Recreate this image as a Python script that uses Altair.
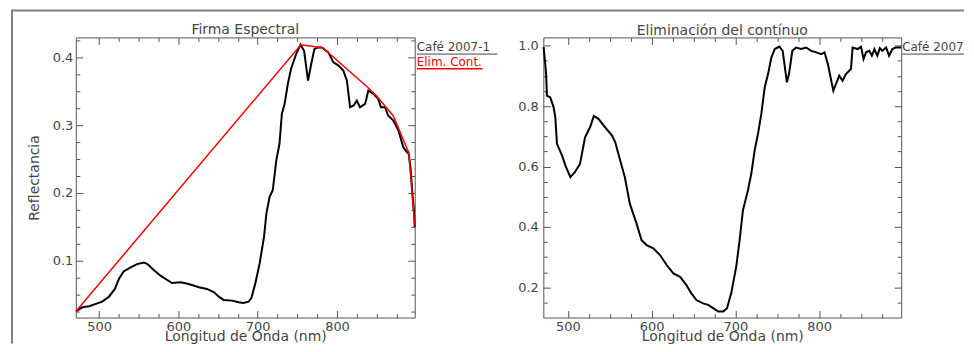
import altair as alt
import pandas as pd

# ---------------- data ----------------
wl_spec = [471, 479, 487.5, 496, 504, 512.5, 520, 525, 531, 540, 548, 556.5, 561, 569, 577.5,
           586, 592, 603, 613, 626, 636, 645, 651, 657, 667.5, 676, 682, 688.5, 692, 697,
           702.5, 708, 711, 715, 719, 723.5, 727.5, 730.5, 734, 738, 742, 748.5, 754, 758.5,
           763.5, 767.5, 771.5, 776, 781, 789, 795.5, 802, 808, 812.5, 816.5, 821, 825, 829,
           835.5, 839.5, 846, 852, 855.5, 860.5, 864.5, 871, 877.5, 883.5, 888, 890.5, 893,
           895, 897, 898]
refl_spec = [0.0255, 0.0313, 0.0328, 0.0363, 0.0397, 0.047, 0.0584, 0.073, 0.0843, 0.0902,
             0.095, 0.0975, 0.095, 0.0863, 0.078, 0.0716, 0.0672, 0.0681, 0.0657, 0.0608,
             0.0584, 0.0534, 0.047, 0.0422, 0.0412, 0.0387, 0.0378, 0.0397, 0.0446, 0.0666,
             0.096, 0.1353, 0.1696, 0.194, 0.204, 0.248, 0.2725, 0.3167, 0.3314, 0.3607,
             0.3828, 0.4049, 0.4187, 0.4098, 0.3657, 0.3902, 0.4122, 0.4147, 0.4147, 0.4074,
             0.3926, 0.3878, 0.3804, 0.3657, 0.3265, 0.329, 0.3363, 0.3265, 0.3314, 0.351,
             0.346, 0.3387, 0.3265, 0.3265, 0.3142, 0.3069, 0.2922, 0.2676, 0.2603, 0.2578,
             0.2334, 0.199, 0.1745, 0.15]

wl_hull = [471, 754.5, 782, 840, 850, 871, 890.5, 898]
refl_hull = [0.0255, 0.4187, 0.4142, 0.3545, 0.343, 0.3135, 0.2595, 0.152]

wl_cr = [471, 473, 474, 475, 479, 483, 485, 487, 493, 497, 503, 508.5, 514.5, 520.5, 526.5,
         531, 536.5, 544.5, 552.5, 556.5, 562.5, 568, 574, 582, 588, 594, 602, 610, 618, 626,
         634, 641.5, 647.5, 653.5, 661.5, 667.5, 673.5, 679.5, 685.5, 690, 695, 701, 705, 709,
         715, 719, 723, 727, 731, 735, 739, 743, 747, 752.5, 756.5, 761.5, 764, 768, 772.5,
         778.5, 784.5, 790.5, 796.5, 802.5, 806.5, 810.5, 814.5, 817, 820, 824, 828, 832, 838,
         840, 846, 850, 853, 856, 860, 863, 866, 869.5, 872.5, 875.5, 880, 883.5, 887.5, 891.5,
         898]
val_cr = [0.995, 0.94, 0.906, 0.835, 0.829, 0.796, 0.763, 0.675, 0.637, 0.604, 0.565, 0.582,
          0.609, 0.697, 0.730, 0.767, 0.758, 0.730, 0.703, 0.681, 0.620, 0.565, 0.477, 0.411,
          0.356, 0.340, 0.329, 0.307, 0.274, 0.246, 0.235, 0.208, 0.180, 0.158, 0.147, 0.142,
          0.131, 0.120, 0.120, 0.131, 0.180, 0.268, 0.354, 0.455, 0.521, 0.576, 0.653, 0.708,
          0.774, 0.862, 0.906, 0.961, 0.989, 0.997, 0.983, 0.879, 0.906, 0.983, 0.994, 0.989,
          0.994, 0.983, 0.978, 0.972, 0.978, 0.939, 0.884, 0.851, 0.873, 0.901, 0.884, 0.906,
          0.923, 0.994, 0.989, 0.997, 0.956, 0.978, 0.983, 0.967, 0.989, 0.967, 0.992, 0.983,
          0.994, 0.967, 0.989, 0.994, 0.994]

x_major = [500, 600, 700, 800]
x_minor = [525, 550, 575, 625, 650, 675, 725, 750, 775, 825, 850, 875]
y1_major = [0.1, 0.2, 0.3, 0.4]
y1_minor = [0.025, 0.05, 0.075, 0.125, 0.15, 0.175, 0.225, 0.25, 0.275, 0.325, 0.35, 0.375, 0.425]
y2_major = [0.2, 0.4, 0.6, 0.8, 1.0]
y2_minor = [0.15, 0.25, 0.3, 0.35, 0.45, 0.5, 0.55, 0.65, 0.7, 0.75, 0.85, 0.9, 0.95]

titles = ["Firma Espectral", "Eliminación del contínuo"]
x_title = "Longitud de Onda (nm)"
y_title = "Reflectancia"
legend_labels = ["Café 2007-1", "Elim. Cont."]

df_spec = pd.DataFrame({"wl": wl_spec, "v": refl_spec})
df_hull = pd.DataFrame({"wl": wl_hull, "v": refl_hull})
df_cr = pd.DataFrame({"wl": wl_cr, "v": val_cr})
one = pd.DataFrame({"k": [0]})

TXT = "#454545"
TICK = "#555555"
FONT = "DejaVu Sans"
MAJ, MIN = 7, 4

W1, W2, H = 340, 359, 281
xscale = alt.Scale(domain=[470.7, 898], nice=False, zero=False)
yscale1 = alt.Scale(domain=[0.0162, 0.4294], nice=False, zero=False)
yscale2 = alt.Scale(domain=[0.1, 1.0274], nice=False, zero=False)


def tick_axis(orient, values, size, **kw):
    base = dict(orient=orient, values=values, tickSize=size, offset=-size, domain=False,
                grid=False, labels=False, title=None, tickColor=TICK, tickWidth=1,
                minExtent=0)
    base.update(kw)
    return alt.Axis(**base)


def text_at(label, x, y, color, size, align="left", limit=0):
    kw = {}
    if limit:
        kw = dict(limit=limit, ellipsis="\u200b")
    return alt.Chart(pd.DataFrame({"t": [label]})).mark_text(
        align=align, baseline="alphabetic", font=FONT, fontSize=size, color=color, **kw
    ).encode(text="t:N", x=alt.value(x), y=alt.value(y))


def hrule(x1, x2, y, color, w):
    return alt.Chart(one).mark_rule(color=color, strokeWidth=w).encode(
        x=alt.value(x1), x2=alt.value(x2), y=alt.value(y))


def panel(df, yscale, ymaj, ymin, width, title, title_y, ytitle, ylabpad, extra):
    ytitle_kw = {}
    if ytitle:
        ytitle_kw = dict(title=ytitle, titleX=37 - (74 + MAJ), titleY=H / 2,
                         titleBaseline="alphabetic", titleAngle=270)
    x_bot = tick_axis("bottom", x_major, MAJ, labels=True, labelPadding=2.5,
                      title=x_title, titleX=width / 2, titleY=30,
                      titleBaseline="alphabetic")
    y_left = tick_axis("left", ymaj, MAJ, labels=True, labelPadding=ylabpad,
                       format=".1f", **ytitle_kw)
    main = alt.Chart(df).mark_line(color="black", strokeWidth=2).encode(
        x=alt.X("wl:Q", scale=xscale, axis=x_bot),
        y=alt.Y("v:Q", scale=yscale, axis=y_left),
    )
    l2 = alt.Chart(df).mark_line(opacity=0).encode(
        x=alt.X("wl:Q", scale=xscale, axis=tick_axis("bottom", x_minor, MIN)),
        y=alt.Y("v:Q", scale=yscale, axis=tick_axis("left", ymin, MIN)),
    )
    l3 = alt.Chart(df).mark_line(opacity=0).encode(
        x=alt.X("wl:Q", scale=xscale, axis=tick_axis("top", x_major, MAJ)),
        y=alt.Y("v:Q", scale=yscale, axis=tick_axis("right", ymaj, MAJ)),
    )
    l4 = alt.Chart(df).mark_line(opacity=0).encode(
        x=alt.X("wl:Q", scale=xscale, axis=tick_axis("top", x_minor, MIN)),
        y=alt.Y("v:Q", scale=yscale, axis=tick_axis("right", ymin, MIN)),
    )
    ttl = text_at(title, width / 2, title_y, TXT, 14, align="center")
    layers = [main, l2, l3, l4, ttl] + extra
    return alt.layer(*layers).resolve_axis(x="independent", y="independent").properties(
        width=width, height=H)


hull = alt.Chart(df_hull).mark_line(color="#ff0000", strokeWidth=1.5).encode(
    x=alt.X("wl:Q", scale=xscale, axis=None), y=alt.Y("v:Q", scale=yscale1, axis=None))

frame_v = alt.Chart(one).mark_rule(color="#808080", strokeWidth=2).encode(
    x=alt.value(-64), y=alt.value(-27), y2=alt.value(307))
frame_h = hrule(-65, 891, -27, "#808080", 2)

left_extra = [
    hull,
    text_at(legend_labels[0], 342, 14, TXT, 12),
    hrule(342, 423, 16.7, TXT, 1),
    text_at(legend_labels[1], 342, 29, "#ff0000", 12),
    hrule(342, 408, 31.3, "#ff0000", 1.5),
    frame_v,
    frame_h,
]
right_extra = [
    text_at(legend_labels[0], 360, 14, TXT, 12, limit=62),
    hrule(360, 422, 16.7, TXT, 1),
]

left = panel(df_spec, yscale1, y1_major, y1_minor, W1, titles[0], -3.3, y_title, 3, left_extra)
right = panel(df_cr, yscale2, y2_major, y2_minor, W2, titles[1], -2.7, None, 5, right_extra)

chart = alt.hconcat(left, right, spacing=129, bounds="flush").properties(
    padding={"left": 1, "top": 0, "right": 0, "bottom": 0}
).configure_view(stroke=TICK, strokeWidth=1).configure_axis(
    labelFont=FONT, labelFontSize=13, labelColor=TXT,
    titleFont=FONT, titleFontSize=14, titleFontWeight="normal", titleColor=TXT,
)

chart.save("out.html", embed_options={"renderer": "svg", "actions": False})
